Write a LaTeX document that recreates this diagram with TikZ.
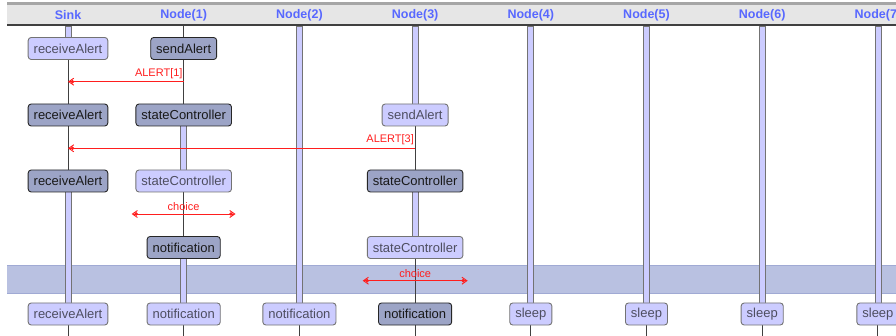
\documentclass[tikz,border=0pt]{standalone}
\usepackage{fontspec}
\setmainfont{Liberation Sans}
\usetikzlibrary{arrows.meta,calc,backgrounds}
\definecolor{HB}{RGB}{88,104,255}
\definecolor{HG}{RGB}{230,230,230}
\definecolor{LF}{RGB}{204,204,255}
\definecolor{DF}{RGB}{156,164,198}
\definecolor{BF}{RGB}{185,193,225}
\definecolor{BE}{RGB}{160,170,212}
\definecolor{LT}{RGB}{78,78,96}
\definecolor{MR}{RGB}{255,30,30}

\tikzset{
  lstate/.style={draw=black!55, fill=LF, text=LT, rounded corners=3pt,
    line width=0.9pt, inner xsep=5.5pt, inner ysep=0pt, minimum height=22pt,
    font=\fontsize{13}{15}\selectfont},
  dstate/.style={lstate, draw=black!85, fill=DF, text=black!90},
  lane/.style={font=\fontsize{12.5}{14}\selectfont\bfseries, text=HB},
  lifebar/.style={draw=black!55, fill=LF, line width=0.8pt},
  lifethin/.style={draw=black!75, line width=1pt},
  dotbarb/.tip={Circle[length=3.5pt,sep=-3.5pt]Straight Barb[length=5pt,width=7pt]},
  msg/.style={draw=MR, line width=0.9pt, -dotbarb},
  choicemsg/.style={draw=MR, line width=0.9pt, dotbarb-dotbarb},
  msglabel/.style={font=\fontsize{11}{13}\selectfont, text=MR, inner sep=0pt}
}

% thick (waiting) and thin parts of a lifeline
\newcommand{\lifebar}[2]{\draw[lifebar] ($(#1)+(-3,0)$) rectangle ($(#2)+(3,0)$);}
\newcommand{\lifethin}[2]{\draw[lifethin] (#1) -- (#2);}

\begin{document}
\begin{tikzpicture}[x=1pt,y=-1pt]
\useasboundingbox (0,0) rectangle (896,336);

% header strip
\fill[black!35] (7,2.5) rectangle (896,5);
\fill[HG] (7,5) rectangle (896,25);
\draw[black!75, line width=1.4pt] (7,25) -- (896,25);

\node[lane] (h0) at (68,15)    {Sink};
\node[lane] (h1) at (183.7,15) {Node(1)};
\node[lane] (h2) at (299.4,15) {Node(2)};
\node[lane] (h3) at (415.1,15) {Node(3)};
\node[lane] (h4) at (530.8,15) {Node(4)};
\node[lane] (h5) at (646.5,15) {Node(5)};
\node[lane] (h6) at (762.2,15) {Node(6)};
\node[lane] (h7) at (877.9,15) {Node(7)};

\foreach \i/\x in {0/68,1/183.7,2/299.4,3/415.1,4/530.8,5/646.5,6/762.2,7/877.9}{
  \coordinate (top\i) at (\x,26);
  \coordinate (bot\i) at (\x,336);
}

% states, row by row
\node[lstate] (n0r1) at (68,48.5)    {receiveAlert};
\node[dstate] (n1r1) at (183.7,48.5) {sendAlert};

\node[dstate] (n0r2) at (68,115)     {receiveAlert};
\node[dstate] (n1r2) at (183.7,115)  {stateController};
\node[lstate] (n3r2) at (415.1,115)  {sendAlert};

\node[dstate] (n0r3) at (68,181)     {receiveAlert};
\node[lstate] (n1r3) at (183.7,181)  {stateController};
\node[dstate] (n3r3) at (415.1,181)  {stateController};

\node[dstate] (n1r4) at (183.7,247.5) {notification};
\node[lstate] (n3r4) at (415.1,247.5) {stateController};

\node[lstate] (n0r5) at (68,314)     {receiveAlert};
\node[lstate] (n1r5) at (183.7,314)  {notification};
\node[lstate] (n2r5) at (299.4,314)  {notification};
\node[dstate] (n3r5) at (415.1,314)  {notification};
\node[lstate] (n4r5) at (530.8,314)  {sleep};
\node[lstate] (n5r5) at (646.5,314)  {sleep};
\node[lstate] (n6r5) at (762.2,314)  {sleep};
\node[lstate] (n7r5) at (877.9,314)  {sleep};

\begin{pgfonlayer}{background}
  % selected step
  \fill[BF] (7,265.5) rectangle (896,293.5);
  \draw[BE, line width=1pt] (7,265.5) -- (896,265.5) (7,293.5) -- (896,293.5);

  % Sink
  \lifebar{top0}{n0r1}
  \lifethin{n0r1}{n0r2}
  \lifethin{n0r2}{n0r3}
  \lifebar{n0r3}{n0r5}
  \lifethin{n0r5}{bot0}
  % Node(1)
  \lifethin{top1}{n1r1}
  \lifethin{n1r1}{n1r2}
  \lifebar{n1r2}{n1r3}
  \lifethin{n1r3}{n1r4}
  \lifebar{n1r4}{n1r5}
  \lifethin{n1r5}{bot1}
  % Node(2)
  \lifebar{top2}{n2r5}
  \lifethin{n2r5}{bot2}
  % Node(3)
  \lifebar{top3}{n3r2}
  \lifethin{n3r2}{n3r3}
  \lifebar{n3r3}{n3r4}
  \lifethin{n3r4}{n3r5}
  \lifethin{n3r5}{bot3}
  % Node(4) .. Node(7)
  \foreach \i in {4,...,7}{
    \lifebar{top\i}{n\i r5}
    \lifethin{n\i r5}{bot\i}
  }
\end{pgfonlayer}

% messages
\coordinate (a1from) at (183.7,81.7);
\coordinate (a1to)   at (68,81.7);
\draw[msg] (a1from) -- (a1to);
\node[msglabel, anchor=south east] (a1lbl) at ($(a1from)+(-1,-3)$) {ALERT[1]};

\coordinate (a3from) at (415.1,148.3);
\coordinate (a3to)   at (68,148.3);
\draw[msg] (a3from) -- (a3to);
\node[msglabel, anchor=south east] (a3lbl) at ($(a3from)+(-1,-3)$) {ALERT[3]};

\coordinate (c1l) at (131.7,214);
\coordinate (c1r) at (235.5,214);
\draw[choicemsg] (c1l) -- (c1r);
\node[msglabel, anchor=south] (c1lbl) at ($(c1l)!0.5!(c1r)+(0,-3)$) {choice};

\coordinate (c2l) at (362.7,280.7);
\coordinate (c2r) at (467.7,280.7);
\draw[choicemsg] (c2l) -- (c2r);
\node[msglabel, anchor=south] (c2lbl) at ($(c2l)!0.5!(c2r)+(0,-3)$) {choice};
\end{tikzpicture}
\end{document}
